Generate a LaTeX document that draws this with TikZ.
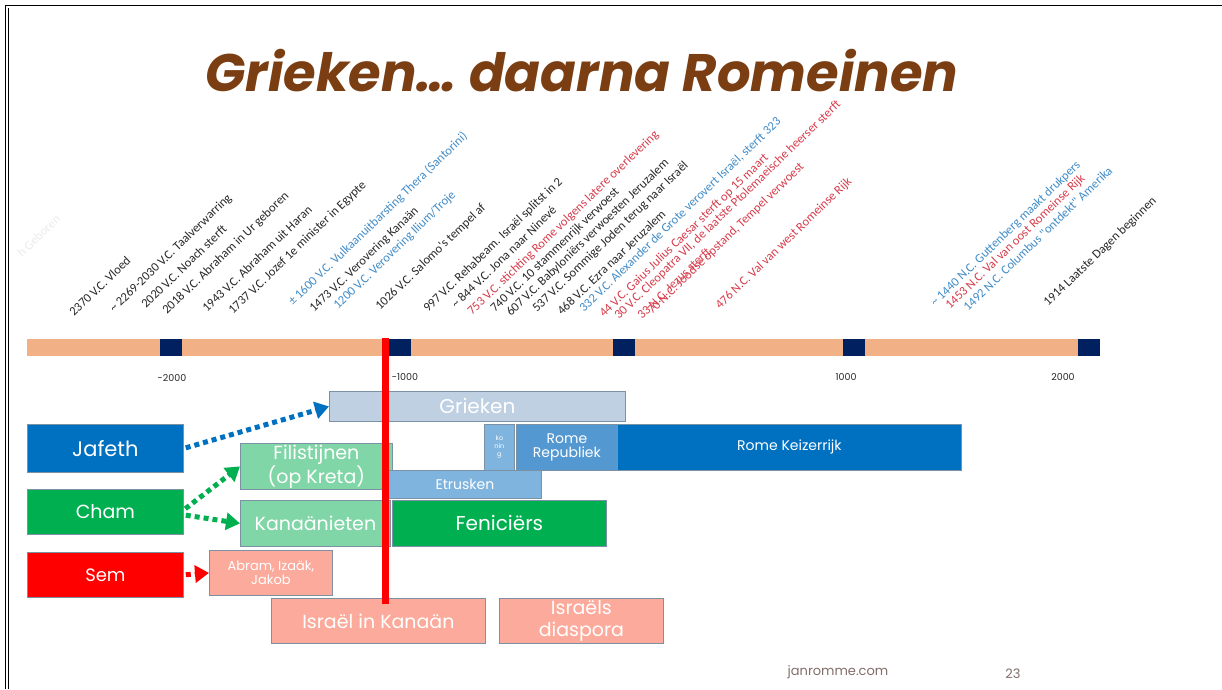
\documentclass[tikz,border=0pt]{standalone}
\usepackage{fontspec}
\setmainfont{Poppins}
\newfontfamily\carlito{Carlito}
\usetikzlibrary{arrows.meta}
\definecolor{titlebrown}{RGB}{122,62,18}
\definecolor{peach}{RGB}{241,176,133}
\definecolor{navy}{RGB}{0,32,96}
\definecolor{jblue}{RGB}{0,112,192}
\definecolor{cgreen}{RGB}{0,176,80}
\definecolor{lgreen}{RGB}{128,214,166}
\definecolor{grblue}{RGB}{191,208,227}
\definecolor{etblue}{RGB}{126,180,222}
\definecolor{repblue}{RGB}{84,152,210}
\definecolor{salmon}{RGB}{252,170,155}
\definecolor{bordergray}{RGB}{125,145,165}
\definecolor{lblack}{RGB}{40,40,40}
\definecolor{lblue}{RGB}{65,140,200}
\definecolor{lred}{RGB}{215,60,75}
\definecolor{footgray}{RGB}{130,110,105}
\tikzset{
  box/.style={draw=bordergray, line width=0.8pt, anchor=north west, inner sep=0pt, align=center, text=white},
  lbl/.style={font=\carlito\fontsize{12.6}{13}\selectfont, rotate=44, anchor=base west, inner sep=0pt},
  tick/.style={font=\fontsize{9.5}{10}\selectfont, text=lblack, inner sep=0pt},
  arr/.style={line width=5pt, dash pattern=on 5pt off 4pt, -{Triangle[length=14pt,width=17pt]}, shorten <=2pt}
}
\begin{document}
\begin{tikzpicture}[x=1pt,y=-1pt]
\useasboundingbox (0,0) rectangle (1222,689);
\fill[white] (0,0) rectangle (1222,689);
% frame
\draw[line width=0.8pt] (5,689) -- (5,5) -- (1222,5);
\draw[line width=0.6pt] (8,689) -- (8,8);
% title
\node[anchor=base west, inner sep=0pt, text=titlebrown] (title) at (205,91)
  {\resizebox{753pt}{!}{\bfseries\itshape Grieken… daarna Romeinen}};
% timeline
\fill[peach] (27,339) rectangle (1100,356);
\foreach \x in {160,389,613,843,1078} \fill[navy] (\x,339) rectangle (\x+22,356);
\node[tick] (t1) at (172,378) {-2000};
\node[tick] (t2) at (405,377) {-1000};
\node[tick] (t3) at (846,377) {1000};
\node[tick] (t4) at (1063,377) {2000};
% event labels
\node[lbl, text={rgb,255:red,236;green,236;blue,236}] (e0) at (22,258) {h Geboren};
\node[lbl, text=lblack] (e1) at (74,317) {2370 V.C. Vloed};
\node[lbl, text=lblack] (e2) at (114,313) {\textasciitilde\ 2269-2030 V.C. Taalverwarring};
\node[lbl, text=lblack] (e3) at (146,309) {2020 V.C. Noach sterft};
\node[lbl, text=lblack] (e4) at (167,315) {2018 V.C. Abraham in Ur geboren};
\node[lbl, text=lblack] (e5) at (207,313) {1943 V.C. Abraham uit Haran};
\node[lbl, text=lblack] (e6) at (233,315) {1737 V.C. Jozef 1e minister in Egypte};
\node[lbl, text=lblue] (e7) at (293,306) {± 1600 V.C. Vulkaanuitbarsting Thera (Santorini)};
\node[lbl, text=lblack] (e8) at (314,313) {1473 V.C. Verovering Kanaän};
\node[lbl, text=lblue] (e9) at (338,310) {1200 V.C. Verovering Ilium/Troje};
\node[lbl, text=lblack] (e10) at (380,311) {1026 V.C. Salomo's tempel af};
\node[lbl, text=lblack] (e11) at (428,313) {997 V.C. Rehabeam. Israël splitst in 2};
\node[lbl, text=lblack] (e12) at (456,309) {\textasciitilde\ 844 V.C. Jona naar Ninevé};
\node[lbl, text=lred] (e13) at (472,316) {753 V.C. stichting Rome volgens latere overlevering};
\node[lbl, text=lblack] (e14) at (495,313) {740 V.C. 10 stammenrijk verwoest};
\node[lbl, text=lblack] (e15) at (511,317) {607 V.C. Babyloniërs verwoesten Jeruzalem};
\node[lbl, text=lblack] (e16) at (537,313) {537 V.C. Sommige Joden terug naar Israël};
\node[lbl, text=lblack] (e17) at (562,316) {468 V.C. Ezra naar Jeruzalem};
\node[lbl, text=lblue] (e18) at (584,313) {332 V.C. Alexander de Grote verovert Israël, sterft 323};
\node[lbl, text=lred] (e19) at (604,318) {44 V.C. Gaius Julius Caesar sterft op 15 maart};
\node[lbl, text=lred] (e20) at (619,320) {30 V.C. Cleopatra VII, de laatste Ptolemaeische heerser sterft};
\node[lbl, text=lred] (e21) at (642,320) {33 N.C. Jezus sterft};
\node[lbl, text=lred] (e22) at (652,315) {70 N.C. Joodse opstand, Tempel verwoest};
\node[lbl, text=lred] (e23) at (720,310) {476 N.C. Val van west Romeinse Rijk};
\node[lbl, text=lblue] (e24) at (935,307) {\textasciitilde\ 1440 N.C. Guttenberg maakt drukpers};
\node[lbl, text=lred] (e25) at (950,310) {1453 N.C. Val van oost Romeinse Rijk};
\node[lbl, text=lblue] (e26) at (968,312) {1492 N.C. Columbus "ontdekt" Amerika};
\node[lbl, text=lblack] (e27) at (1048,307) {1914 Laatste Dagen beginnen};
% boxes
\node[box, fill=grblue, minimum width=296pt, minimum height=30pt, font=\fontsize{20}{22}\selectfont] (grieken) at (329,391) {Grieken};
\node[box, fill=jblue, minimum width=156pt, minimum height=48pt, font=\fontsize{21}{23}\selectfont] (jafeth) at (27,424) {Jafeth};
\node[box, fill=cgreen, minimum width=156pt, minimum height=45pt, font=\fontsize{19}{21}\selectfont] (cham) at (27,489) {Cham};
\node[box, fill=red, minimum width=156pt, minimum height=45pt, font=\fontsize{18}{20}\selectfont] (sem) at (27,552) {Sem};
\node[box, fill=etblue, minimum width=30pt, minimum height=46pt, font=\fontsize{6.5}{8}\selectfont] (koning) at (484,424) {ko\\nin\\g};
\node[box, fill=repblue, minimum width=101pt, minimum height=46pt, font=\fontsize{14}{14}\selectfont] (rep) at (516,424) {Rome\\Republiek};
\node[box, fill=jblue, minimum width=344pt, minimum height=46pt, font=\fontsize{14}{16}\selectfont] (keizer) at (617,424) {Rome Keizerrijk};
\node[box, fill=lgreen, minimum width=152pt, minimum height=46pt, font=\fontsize{19}{22}\selectfont] (fil) at (240,443) {Filistijnen\\(op Kreta)};
\node[box, fill=etblue, minimum width=153pt, minimum height=28pt, font=\fontsize{14}{16}\selectfont] (etr) at (388,470) {Etrusken};
\node[box, fill=lgreen, minimum width=150pt, minimum height=46pt, font=\fontsize{19}{22}\selectfont] (kan) at (240,500) {Kanaänieten};
\node[box, fill=cgreen, minimum width=214pt, minimum height=46pt, font=\fontsize{20}{23}\selectfont] (fen) at (392,500) {Feniciërs};
\node[box, fill=salmon, minimum width=123pt, minimum height=45pt, font=\fontsize{13}{14}\selectfont] (abram) at (209,550) {Abram, Izaäk,\\Jakob};
\node[box, fill=salmon, minimum width=214pt, minimum height=45pt, font=\fontsize{19}{22}\selectfont] (iskan) at (271,598) {Israël in Kanaän};
\node[box, fill=salmon, minimum width=164pt, minimum height=45pt, font=\fontsize{19}{22}\selectfont] (diasp) at (499,598) {Israëls\\diaspora};
% red marker line
\draw[red, line width=7pt] (385,338) -- (385,604);
% arrows
\draw[arr, jblue] (jafeth.east) -- (grieken.west);
\draw[arr, cgreen] ([yshift=2pt]cham.east) -- (fil.west);
\draw[arr, cgreen] ([yshift=-3pt]cham.east) -- (kan.west);
\draw[arr, red] (sem.east) -- (abram.west);
% footer
\node[font=\fontsize{13}{14}\selectfont, text=footgray, inner sep=0pt] (site) at (838,672) {janromme.com};
\node[font=\fontsize{13}{14}\selectfont, text=footgray, inner sep=0pt] (page) at (1013,674) {23};
\end{tikzpicture}
\end{document}
